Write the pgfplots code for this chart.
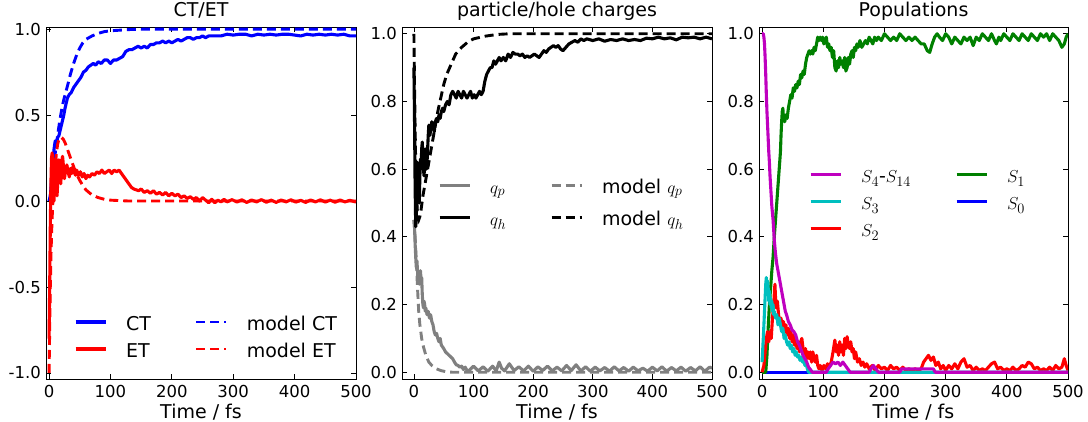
\documentclass[border=0pt]{standalone}
\usepackage{fontspec}
\setmainfont{DejaVu Sans}
\usepackage{pgfplots}
\pgfplotsset{compat=1.18}

\definecolor{mplgreen}{rgb}{0,0.5,0}
\definecolor{mplcyan}{rgb}{0,0.75,0.75}
\definecolor{mplmag}{rgb}{0.75,0,0.75}
\definecolor{mplgray}{rgb}{0.5,0.5,0.5}

\newcommand\bigf{\fontsize{19}{22}\selectfont}
\newcommand\tickf{\fontsize{16.5}{19}\selectfont}

\pgfplotsset{
  legend image code/.code={\draw[#1] (0pt,0pt) -- (30pt,0pt);},
  ln/.style={line width=3.1pt, line join=round},
  dsh/.style={line width=2.9pt, dash pattern=on 9pt off 5pt},
  panel/.style={
    scale only axis, width=310pt, height=352pt,
    anchor=south west,
    xmin=-5, xmax=500,
    xtick={0,100,200,300,400,500},
    xticklabels={0,100,200,300,400,500},
    tick align=inside,
    major tick length=5pt,
    no markers,
    axis line style={line width=0.9pt},
    every tick/.style={black, line width=0.8pt},
    ticklabel style={font=\tickf, inner sep=0pt},
    xticklabel style={anchor=base, yshift=-18pt},
    yticklabel style={anchor=east, xshift=-5pt},
    title style={font=\bigf, at={(0.5,1)}, anchor=base, yshift=4pt, inner sep=0pt},
    xlabel style={font=\bigf, at={(0.5,0)}, anchor=base, yshift=-39pt, inner sep=0pt},
    xlabel={Time / fs},
    legend cell align=left,
    legend columns=2,
    legend style={draw=none, fill=none, inner sep=0pt, outer sep=0pt,
      font=\bigf, anchor=north west,
      nodes={inner sep=0pt, text height=20pt, text depth=4pt},
      /tikz/every odd column/.append style={column sep=19pt},
      /tikz/every even column/.append style={column sep=44pt}},
  },
}

\begin{document}
\begin{tikzpicture}
\useasboundingbox (0,0) rectangle (1088pt,421pt);

% ---------------- CT/ET
\begin{axis}[panel, at={(46pt,42pt)},
  title={CT/ET},
  ymin=-1.035, ymax=1.012,
  ytick={-1,-0.5,0,0.5,1},
  yticklabels={-1.0,-0.5,0.0,0.5,1.0},
  legend style={at={(0.0903,0.196)}, row sep=3pt}]
\addplot[ln, blue] coordinates {(0,0) (2,0.02) (4,0.12) (6,0.2) (8,0.3) (10,0.35) (12,0.33) (14,0.37) (16,0.38) (18,0.41) (20,0.44) (22,0.47) (24,0.5) (26,0.54) (28,0.57) (30,0.6) (33,0.62) (36,0.63) (40,0.66) (44,0.68) (48,0.7) (52,0.72) (56,0.75) (60,0.76) (64,0.78) (68,0.79) (72,0.8) (76,0.79) (80,0.81) (85,0.8) (90,0.82) (95,0.82) (100,0.8) (105,0.82) (110,0.82) (115,0.83) (120,0.84) (125,0.87) (130,0.88) (135,0.88) (140,0.89) (145,0.9) (150,0.89) (155,0.9) (160,0.89) (165,0.91) (170,0.91) (175,0.92) (180,0.92) (185,0.93) (190,0.92) (195,0.93) (200,0.92) (205,0.93) (210,0.94) (215,0.93) (220,0.94) (225,0.95) (230,0.95) (235,0.94) (240,0.95) (245,0.95) (250,0.96) (255,0.95) (260,0.96) (270,0.96) (280,0.96) (290,0.97) (300,0.965) (310,0.97) (320,0.97) (330,0.96) (340,0.97) (350,0.965) (360,0.97) (370,0.965) (380,0.97) (390,0.97) (400,0.965) (410,0.96) (420,0.97) (430,0.965) (440,0.97) (450,0.965) (460,0.97) (470,0.965) (480,0.97) (490,0.96) (500,0.96)};
\addlegendentry{CT}
\addplot[dsh, blue] coordinates {(0,0) (3,0.05) (6,0.15) (9,0.25) (12,0.33) (15,0.41) (18,0.48) (21,0.54) (24,0.59) (27,0.63) (30,0.67) (35,0.74) (40,0.8) (45,0.85) (50,0.89) (55,0.92) (60,0.94) (70,0.96) (80,0.975) (90,0.985) (100,0.99) (130,0.997) (160,1.0) (500,1.0)};
\addlegendentry{model CT}
\addplot[ln, red] coordinates {(0,-0.8) (1,-0.5) (2,-0.15) (3,0.1) (4,0.25) (5,0.28) (6,0.2) (7,0.05) (8,0.0) (9,0.08) (10,0.2) (11,0.25) (12,0.15) (13,0.03) (14,0.1) (15,0.2) (16,0.24) (17,0.2) (18,0.14) (19,0.1) (20,0.16) (21,0.24) (22,0.26) (23,0.22) (24,0.16) (25,0.13) (27,0.18) (29,0.21) (31,0.17) (33,0.14) (35,0.19) (37,0.16) (39,0.2) (41,0.17) (43,0.15) (45,0.18) (48,0.15) (51,0.17) (54,0.14) (57,0.16) (60,0.13) (63,0.15) (66,0.14) (70,0.16) (74,0.15) (78,0.17) (82,0.16) (86,0.18) (90,0.16) (94,0.17) (98,0.18) (102,0.16) (106,0.18) (110,0.17) (114,0.18) (118,0.16) (122,0.14) (126,0.12) (130,0.1) (134,0.08) (138,0.07) (142,0.065) (146,0.06) (150,0.07) (155,0.05) (160,0.06) (165,0.045) (170,0.06) (175,0.04) (180,0.05) (185,0.035) (190,0.05) (195,0.03) (200,0.045) (205,0.03) (210,0.04) (215,0.02) (220,0.03) (225,0.015) (230,0.025) (235,0.01) (240,0.02) (245,0.0) (250,0.02) (255,0.005) (260,-0.01) (265,0.01) (270,-0.01) (275,0.005) (280,-0.005) (285,0.01) (290,-0.005) (298,0.008) (306,-0.006) (314,0.007) (322,-0.008) (330,0.006) (338,-0.005) (346,0.008) (354,-0.007) (362,0.005) (370,-0.008) (378,0.006) (386,-0.005) (394,0.007) (402,-0.006) (410,0.004) (418,-0.008) (426,0.006) (434,-0.005) (442,0.007) (450,-0.006) (458,0.005) (466,-0.007) (474,0.006) (482,-0.005) (490,0.004) (500,-0.006)};
\addlegendentry{ET}
\addplot[dsh, red] coordinates {(0,-1.0) (1,-0.75) (2,-0.5) (3,-0.33) (4,-0.2) (5,-0.1) (6,-0.02) (8,0.1) (10,0.2) (12,0.28) (14,0.33) (16,0.36) (18,0.37) (20,0.37) (23,0.36) (26,0.34) (29,0.31) (33,0.27) (37,0.23) (41,0.19) (45,0.155) (50,0.12) (55,0.09) (60,0.065) (65,0.05) (70,0.035) (80,0.02) (90,0.01) (100,0.005) (130,0.0) (500,0)};
\addlegendentry{model ET}
\end{axis}

% ---------------- particle/hole charges
\begin{axis}[panel, at={(402pt,42pt)},
  title={particle/hole charges},
  xmin=-20,
  ymin=-0.02, ymax=1.02,
  ytick={0,0.2,0.4,0.6,0.8,1.0},
  yticklabels={0.0,0.2,0.4,0.6,0.8,1.0},
  legend style={at={(0.116,0.585)}, row sep=8pt}]
\addplot[ln, mplgray] coordinates {(0,0.45) (1,0.43) (2,0.38) (3,0.34) (4,0.31) (5,0.33) (6,0.3) (7,0.27) (8,0.28) (9,0.26) (10,0.29) (11,0.3) (12,0.27) (13,0.28) (14,0.23) (15,0.2) (16,0.19) (17,0.21) (18,0.2) (19,0.18) (20,0.19) (22,0.17) (24,0.18) (26,0.16) (28,0.17) (30,0.15) (32,0.14) (34,0.12) (36,0.11) (38,0.115) (40,0.1) (42,0.09) (44,0.1) (46,0.08) (48,0.075) (50,0.07) (53,0.06) (56,0.055) (59,0.05) (62,0.045) (65,0.04) (68,0.03) (71,0.022) (74,0.02) (77,0.015) (80,0.018) (83,0.008) (86,0.015) (89,0.005) (92,0.004) (100,0.018) (108,0.004) (116,0.016) (124,0.003) (132,0.018) (138,0.004) (143,0.03) (147,0.012) (152,0.004) (160,0.025) (168,0.005) (176,0.016) (184,0.004) (192,0.018) (200,0.003) (208,0.016) (216,0.005) (224,0.018) (232,0.004) (240,0.015) (248,0.004) (256,0.02) (264,0.005) (272,0.022) (280,0.004) (288,0.016) (296,0.003) (304,0.015) (312,0.004) (320,0.014) (328,0.003) (336,0.016) (344,0.004) (352,0.014) (360,0.003) (368,0.015) (376,0.004) (384,0.012) (392,0.003) (400,0.015) (408,0.004) (416,0.016) (424,0.003) (432,0.014) (440,0.004) (448,0.015) (456,0.003) (464,0.014) (472,0.004) (480,0.016) (488,0.003) (496,0.015) (500,0.012)};
\addlegendentry{$q_p$}
\addplot[dsh, mplgray] coordinates {(0,0.45) (2,0.4) (4,0.33) (6,0.25) (8,0.18) (10,0.14) (13,0.1) (16,0.075) (20,0.05) (25,0.03) (30,0.02) (38,0.01) (45,0.005) (55,0.001) (65,0) (500,0)};
\addlegendentry{model $q_p$}
\addplot[ln, black] coordinates {(0,0.9) (1,0.75) (2,0.55) (3,0.43) (4,0.45) (5,0.55) (6,0.62) (7,0.6) (8,0.52) (9,0.5) (10,0.58) (11,0.63) (12,0.6) (13,0.66) (14,0.68) (15,0.64) (16,0.6) (17,0.58) (18,0.62) (19,0.66) (20,0.63) (21,0.6) (22,0.62) (23,0.66) (24,0.7) (25,0.73) (26,0.72) (27,0.7) (28,0.72) (30,0.74) (32,0.73) (34,0.71) (36,0.74) (38,0.75) (40,0.74) (42,0.76) (44,0.75) (46,0.77) (48,0.78) (50,0.77) (53,0.79) (56,0.8) (59,0.79) (62,0.82) (65,0.83) (68,0.82) (71,0.81) (74,0.83) (77,0.82) (80,0.81) (83,0.83) (86,0.82) (89,0.81) (92,0.82) (95,0.83) (98,0.81) (101,0.82) (104,0.81) (107,0.82) (110,0.83) (113,0.82) (116,0.83) (119,0.86) (122,0.88) (125,0.89) (128,0.9) (131,0.9) (134,0.92) (137,0.91) (140,0.92) (143,0.93) (146,0.92) (150,0.93) (154,0.92) (158,0.94) (162,0.93) (166,0.945) (170,0.94) (174,0.94) (178,0.935) (182,0.94) (186,0.93) (190,0.935) (194,0.93) (198,0.935) (202,0.94) (206,0.935) (210,0.93) (214,0.94) (218,0.95) (222,0.945) (226,0.955) (230,0.96) (234,0.965) (238,0.96) (242,0.965) (246,0.955) (250,0.95) (255,0.96) (260,0.97) (265,0.975) (270,0.98) (275,0.975) (280,0.985) (285,0.98) (290,0.985) (300,0.98) (310,0.985) (320,0.978) (330,0.983) (340,0.98) (350,0.985) (360,0.98) (370,0.983) (380,0.98) (390,0.987) (400,0.985) (410,0.99) (420,0.985) (430,0.988) (440,0.982) (450,0.99) (460,0.988) (470,0.99) (480,0.985) (490,0.99) (500,0.985)};
\addlegendentry{$q_h$}
\addplot[dsh, black] coordinates {(0,1.0) (1,0.85) (2,0.72) (3,0.62) (4,0.55) (5,0.5) (6,0.47) (7,0.455) (8,0.45) (10,0.46) (12,0.48) (15,0.52) (20,0.57) (25,0.62) (30,0.67) (35,0.72) (40,0.77) (45,0.81) (50,0.85) (55,0.88) (60,0.9) (65,0.92) (70,0.94) (80,0.96) (90,0.975) (100,0.985) (120,0.993) (140,0.998) (160,1.0) (500,1.0)};
\addlegendentry{model $q_h$}
\end{axis}

% ---------------- Populations
\begin{axis}[panel, at={(759pt,42pt)}, width=309pt,
  title={Populations},
  ymin=-0.02, ymax=1.02,
  ytick={0,0.2,0.4,0.6,0.8,1.0},
  yticklabels={0.0,0.2,0.4,0.6,0.8,1.0},
  legend style={at={(0.162,0.614)}, row sep=3pt}]
\addplot[ln, blue, forget plot] coordinates {(0,0) (500,0)};
\addplot[ln, mplgreen, forget plot] coordinates {(0,0) (6,0) (8,0.05) (10,0.13) (12,0.2) (14,0.25) (16,0.3) (18,0.34) (20,0.4) (22,0.45) (24,0.5) (26,0.55) (28,0.6) (30,0.65) (31,0.7) (32,0.74) (33,0.77) (34,0.78) (35,0.75) (37,0.74) (39,0.76) (41,0.75) (43,0.78) (45,0.8) (47,0.82) (49,0.81) (51,0.84) (53,0.83) (55,0.85) (57,0.84) (59,0.86) (61,0.85) (63,0.88) (65,0.87) (67,0.89) (69,0.88) (71,0.91) (73,0.93) (75,0.94) (77,0.95) (79,0.94) (81,0.95) (83,0.94) (85,0.96) (87,0.95) (89,0.97) (91,0.99) (93,0.98) (95,0.99) (97,0.98) (99,0.99) (101,0.97) (103,0.98) (105,0.99) (107,0.96) (109,0.97) (111,0.95) (113,0.96) (115,0.93) (117,0.95) (119,0.9) (121,0.89) (123,0.92) (125,0.9) (127,0.93) (129,0.91) (131,0.92) (133,0.9) (135,0.93) (137,0.89) (139,0.9) (141,0.93) (143,0.91) (145,0.94) (147,0.95) (149,0.93) (151,0.96) (153,0.95) (155,0.97) (157,0.96) (160,0.98) (163,0.96) (166,0.97) (169,0.98) (172,0.97) (175,0.99) (178,0.98) (181,0.97) (184,0.99) (187,0.98) (190,0.99) (195,0.98) (200,1.0) (205,0.99) (210,0.98) (215,0.99) (220,0.98) (225,1.0) (230,0.99) (235,0.98) (240,0.99) (245,0.98) (250,0.99) (255,0.98) (260,0.97) (265,0.97) (270,0.95) (274,0.945) (278,0.97) (282,0.99) (286,1.0) (290,0.99) (295,0.98) (300,1.0) (305,0.99) (310,0.97) (315,0.99) (320,0.98) (325,0.97) (330,0.99) (335,0.98) (340,0.99) (345,0.965) (350,0.99) (355,0.98) (360,1.0) (365,0.99) (370,0.98) (375,1.0) (380,0.98) (383,0.97) (387,0.99) (390,0.98) (395,1.0) (400,0.99) (405,0.98) (410,1.0) (415,0.99) (420,0.98) (425,1.0) (430,0.99) (435,0.98) (440,1.0) (445,0.99) (450,0.98) (455,1.0) (460,0.99) (465,1.0) (470,0.98) (475,1.0) (480,0.99) (485,0.98) (490,0.96) (494,0.97) (497,0.99) (500,1.0)};
\addplot[ln, red, forget plot] coordinates {(0,0) (3,0.02) (5,0.06) (7,0.1) (9,0.12) (11,0.09) (13,0.12) (15,0.1) (17,0.16) (19,0.2) (21,0.26) (22,0.22) (23,0.19) (25,0.21) (27,0.17) (29,0.14) (31,0.16) (33,0.13) (35,0.15) (37,0.12) (39,0.14) (41,0.11) (43,0.13) (45,0.1) (47,0.12) (49,0.09) (51,0.11) (53,0.08) (55,0.1) (57,0.07) (59,0.09) (61,0.06) (63,0.09) (65,0.1) (67,0.07) (69,0.05) (71,0.07) (73,0.04) (75,0.06) (77,0.04) (79,0.06) (81,0.03) (83,0.06) (85,0.04) (87,0.03) (89,0.05) (91,0.02) (93,0.01) (95,0.02) (98,0.005) (101,0.02) (104,0.01) (107,0.025) (110,0.015) (113,0.03) (116,0.06) (119,0.095) (121,0.06) (123,0.08) (125,0.05) (127,0.09) (129,0.06) (131,0.08) (133,0.05) (135,0.1) (137,0.07) (139,0.105) (141,0.08) (143,0.07) (145,0.09) (147,0.06) (149,0.07) (151,0.04) (153,0.06) (156,0.03) (159,0.04) (162,0.02) (165,0.03) (168,0.015) (171,0.025) (175,0.01) (180,0.02) (185,0.005) (190,0.02) (195,0.01) (200,0.015) (205,0.005) (210,0.02) (215,0.01) (220,0.015) (225,0.005) (230,0.015) (235,0.005) (240,0.01) (245,0.005) (250,0.01) (255,0.005) (260,0.01) (264,0.03) (268,0.04) (272,0.05) (276,0.035) (280,0.045) (284,0.02) (288,0.03) (292,0.01) (296,0.02) (300,0.005) (305,0.02) (310,0.01) (315,0.025) (320,0.01) (325,0.03) (330,0.04) (335,0.015) (340,0.02) (345,0.005) (350,0.015) (355,0.005) (360,0.01) (365,0.005) (370,0.015) (375,0.025) (380,0.03) (385,0.01) (390,0.015) (395,0.005) (400,0.01) (405,0.005) (410,0.015) (415,0.005) (420,0.01) (425,0.02) (430,0.015) (435,0.03) (440,0.025) (445,0.01) (450,0.015) (455,0.005) (460,0.01) (465,0.005) (470,0.015) (475,0.005) (480,0.02) (485,0.01) (490,0.015) (494,0.04) (497,0.02) (500,0.005)};
\addplot[ln, mplcyan, forget plot] coordinates {(0,0.03) (2,0.1) (4,0.18) (6,0.26) (7,0.28) (8,0.24) (9,0.27) (10,0.25) (11,0.21) (12,0.24) (13,0.2) (14,0.22) (15,0.19) (16,0.21) (17,0.18) (18,0.2) (19,0.17) (20,0.18) (22,0.16) (24,0.17) (26,0.14) (28,0.16) (30,0.14) (32,0.12) (34,0.13) (36,0.1) (38,0.11) (40,0.09) (42,0.08) (44,0.09) (46,0.07) (48,0.08) (50,0.06) (52,0.07) (54,0.05) (56,0.06) (58,0.045) (60,0.05) (62,0.035) (64,0.045) (66,0.03) (68,0.035) (70,0.02) (72,0.025) (74,0.01) (76,0.0) (500,0)};
\addplot[ln, mplmag, forget plot] coordinates {(0,1.0) (2,1.0) (3,0.99) (4,0.97) (5,0.93) (6,0.88) (7,0.82) (8,0.77) (9,0.73) (10,0.69) (11,0.65) (12,0.62) (13,0.58) (14,0.55) (15,0.52) (16,0.49) (17,0.47) (18,0.45) (19,0.42) (20,0.39) (22,0.35) (24,0.32) (26,0.3) (28,0.28) (30,0.26) (32,0.24) (34,0.22) (36,0.2) (38,0.18) (40,0.17) (43,0.15) (46,0.14) (49,0.125) (52,0.12) (55,0.11) (58,0.09) (61,0.08) (64,0.065) (67,0.05) (70,0.04) (73,0.03) (76,0.015) (79,0.008) (82,0.0) (105,0) (108,0.01) (112,0.02) (116,0.03) (120,0.025) (124,0.03) (128,0.02) (132,0.03) (136,0.02) (140,0.01) (144,0) (175,0) (178,0.01) (182,0.02) (186,0.01) (190,0) (225,0) (228,0.01) (280,0.01) (283,0) (500,0)};
\addlegendimage{ln, mplmag}
\addlegendentry{$S_4$-$S_{14}$}
\addlegendimage{ln, mplgreen}
\addlegendentry{$S_1$}
\addlegendimage{ln, mplcyan}
\addlegendentry{$S_3$}
\addlegendimage{ln, blue}
\addlegendentry{$S_0$}
\addlegendimage{ln, red}
\addlegendentry{$S_2$}
\end{axis}
\end{tikzpicture}
\end{document}
